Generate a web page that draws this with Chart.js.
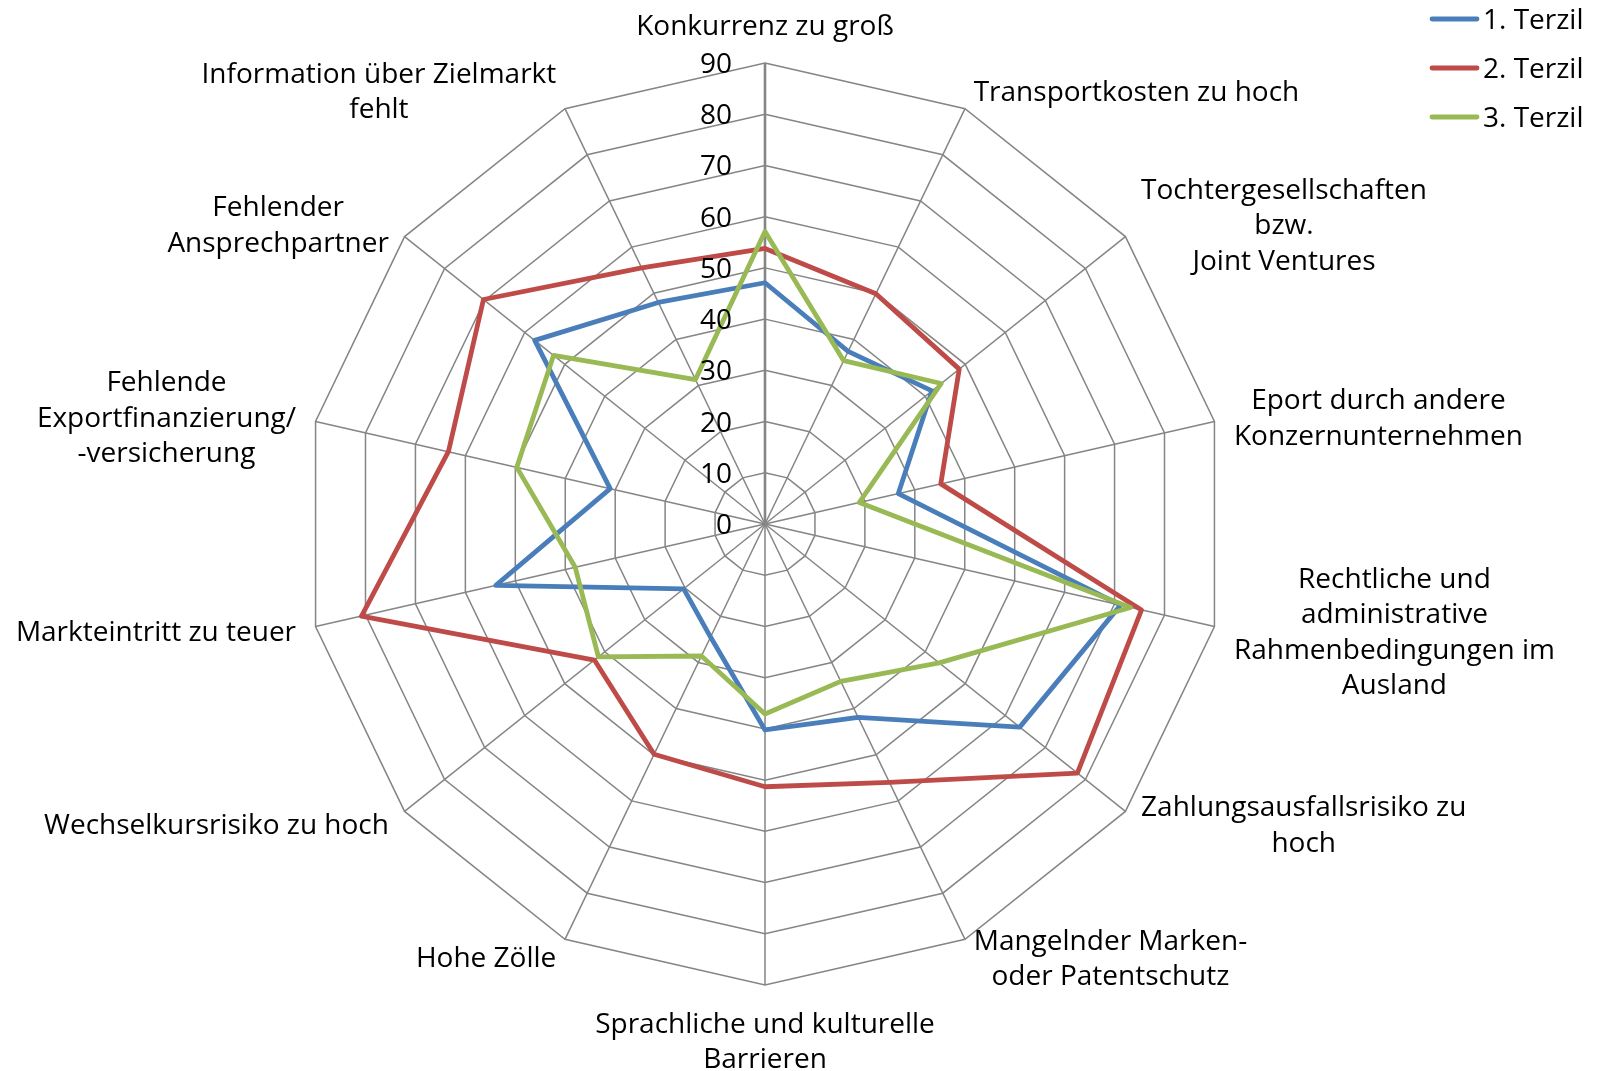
<!DOCTYPE html>
<html>
<head>
<meta charset="utf-8">
<title>Exporthemmnisse nach Terzil</title>
<script src="https://cdn.jsdelivr.net/npm/chart.js@4.4.0/dist/chart.umd.min.js"></script>
<style>
  html, body { margin: 0; padding: 0; background: #fff; }
  canvas { display: block; }
</style>
</head>
<body>
<canvas id="radar" width="1599" height="1071"></canvas>
<script>
// categories, clockwise from the top (multi line labels as arrays)
const categories = [
  ['Konkurrenz zu groß'],
  ['Transportkosten zu hoch'],
  ['Tochtergesellschaften', 'bzw.', 'Joint Ventures'],
  ['Eport durch andere', 'Konzernunternehmen'],
  ['Rechtliche und', 'administrative', 'Rahmenbedingungen im', 'Ausland'],
  ['Zahlungsausfallsrisiko zu', 'hoch'],
  ['Mangelnder Marken-', 'oder Patentschutz'],
  ['Sprachliche und kulturelle', 'Barrieren'],
  ['Hohe Zölle'],
  ['Wechselkursrisiko zu hoch'],
  ['Markteintritt zu teuer'],
  ['Fehlende', 'Exportfinanzierung/', '-versicherung'],
  ['Fehlender', 'Ansprechpartner'],
  ['Information über Zielmarkt', 'fehlt']
];

const seriesNames = ['1. Terzil', '2. Terzil', '3. Terzil'];

// values
const terzil1 = [47.1, 37.4, 41.7, 26.7, 71.2, 63.6, 41.9, 40.2, 24.5, 20.3, 53.9, 31.0, 57.5, 48.0];
const terzil2 = [53.8, 49.9, 48.5, 35.2, 75.4, 78.0, 56.0, 51.3, 49.9, 42.6, 80.8, 63.4, 70.3, 55.5];
const terzil3 = [57.1, 35.4, 44.0, 18.9, 73.2, 43.5, 34.1, 37.1, 28.6, 41.6, 38.0, 49.7, 52.8, 31.3];

const tickLabels = [0, 10, 20, 30, 40, 50, 60, 70, 80, 90];

const FONT = '28px "Open Sans"';
const LINE_H = 35.5;
const GRID = '#858585';

//draws the category labels, the value labels and the legend
const excelLabels = {
  id: 'excelLabels',
  afterDraw(chart) {
    const scale = chart.scales.r;
    const ctx = chart.ctx;
    ctx.save();
    ctx.font = FONT;
    ctx.fillStyle = '#000';
    ctx.textAlign = 'center';
    ctx.textBaseline = 'middle';

    //category labels sit just outside the outer ring
    categories.forEach((lines, i) => {
      const angle = scale.getIndexAngle(i);
      const p = scale.getPointPosition(i, scale.drawingArea + 20);
      const sin = Math.sin(angle);
      const w = Math.max(...lines.map(l => ctx.measureText(l).width));
      const h = lines.length * LINE_H;
      let cx, top;
      if (Math.abs(sin) < 0.01) {
        cx = p.x;
        top = Math.cos(angle) > 0 ? p.y - h : p.y;
      } else {
        cx = sin > 0 ? p.x + w / 2 : p.x - w / 2;
        top = p.y - h / 2;
      }
      lines.forEach((l, j) => ctx.fillText(l, cx, top + LINE_H * (j + 0.5) + 2));
    });

    //value axis labels, left of the vertical spoke
    ctx.textAlign = 'right';
    tickLabels.forEach(v => {
      const y = scale.yCenter - scale.getDistanceFromCenterForValue(v);
      ctx.fillText(String(v), scale.xCenter - 33, y + 2);
    });

    //legend, top right
    ctx.textAlign = 'left';
    ctx.lineCap = 'round';
    chart.data.datasets.forEach((ds, i) => {
      const y = 19 + i * 49;
      ctx.strokeStyle = ds.borderColor;
      ctx.lineWidth = 4.8;
      ctx.beginPath();
      ctx.moveTo(1432, y);
      ctx.lineTo(1477, y);
      ctx.stroke();
      ctx.fillText(ds.label, 1483, y + 2);
    });
    ctx.restore();
  }
};

const makeSet = (label, data, color, order) => ({
  label: label,
  data: data,
  borderColor: color,
  backgroundColor: color,
  borderWidth: 4.8,
  borderJoinStyle: 'round',
  pointRadius: 0,
  pointHoverRadius: 0,
  fill: false,
  tension: 0,
  order: order
});

new Chart(document.getElementById('radar'), {
  type: 'radar',
  data: {
    labels: categories,
    datasets: [
      makeSet(seriesNames[0], terzil1, '#4a7ebb', 2),
      makeSet(seriesNames[1], terzil2, '#be4b48', 1),
      makeSet(seriesNames[2], terzil3, '#98b954', 0)
    ]
  },
  options: {
    responsive: false,
    animation: false,
    events: [],
    layout: {
      padding: { left: 304, right: 373, top: 63, bottom: 86 }
    },
    plugins: {
      legend: { display: false },
      tooltip: { enabled: false },
      title: { display: false }
    },
    scales: {
      r: {
        min: 0,
        max: 90,
        ticks: { stepSize: 10, display: false, showLabelBackdrop: false },
        pointLabels: { display: false },
        grid: { color: GRID, lineWidth: 1.5 },
        angleLines: {
          color: GRID,
          lineWidth: (c) => c.index === 0 ? 2.6 : 1.5
        }
      }
    }
  },
  plugins: [excelLabels]
});
</script>
</body>
</html>
